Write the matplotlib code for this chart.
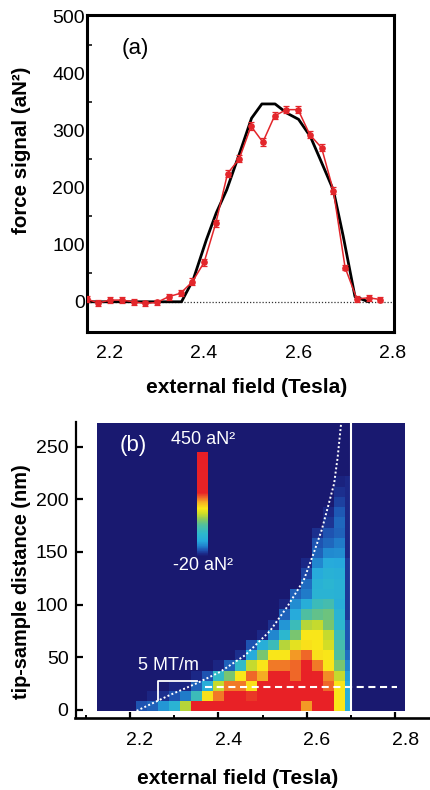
import numpy as np
import matplotlib
matplotlib.use("Agg")
import matplotlib.pyplot as plt
import matplotlib.transforms as mtransforms
from matplotlib.colors import LinearSegmentedColormap
from matplotlib.patches import Rectangle
from matplotlib.ticker import FixedLocator

plt.rcParams['font.family'] = ['Liberation Sans', 'DejaVu Sans']

W, H = 430, 790

# ---------------- panel (a) data ----------------
field_a = [2.150, 2.175, 2.200, 2.225, 2.250, 2.275, 2.300, 2.325, 2.350, 2.375,
           2.400, 2.425, 2.450, 2.475, 2.500, 2.525, 2.550, 2.575, 2.600, 2.625,
           2.650, 2.675, 2.700, 2.725, 2.750, 2.775]
signal_a = [5, -2, 3, 3, 0, -3, -1, 9, 15, 35,
            69, 138, 225, 251, 308, 280, 326, 337, 337, 293,
            270, 195, 60, 5, 7, 4]
err_a = [5, 5, 5, 5, 5, 5, 5, 5, 5, 6,
         6, 6, 6, 6, 7, 7, 6, 6, 6, 6,
         6, 6, 5, 5, 5, 5]

model_field = [2.150, 2.352, 2.377, 2.405, 2.426, 2.448, 2.477, 2.501, 2.523,
               2.551, 2.576, 2.601, 2.626, 2.647, 2.675, 2.696, 2.721, 2.750]
model_signal = [0, 0, 39, 109, 156, 196, 264, 322, 347,
                347, 331, 320, 290, 250, 196, 115, 9, 0]

# ---------------- panel (b) data ----------------
field_b = [2.200, 2.225, 2.250, 2.275, 2.300, 2.325, 2.350, 2.375, 2.400, 2.425,
           2.450, 2.475, 2.500, 2.525, 2.550, 2.575, 2.600, 2.625, 2.650, 2.675, 2.700]
# force signal (aN^2) per field column, listed from the lowest distance row upward
signal_b_cols = [
    [],
    [10],
    [15, -10],
    [40, -5],
    [70, 10, -10],
    [165, 25, -10],
    [350, 100, 15, -8],
    [350, 200, 60, 10],
    [350, 240, 170, 90, -10],
    [350, 350, 240, 140, 15],
    [350, 350, 240, 195, 90, -5],
    [350, 260, 200, 245, 170, 55, 10],
    [350, 350, 350, 225, 195, 140, 60, -8],
    [350, 350, 350, 300, 240, 195, 100, 30, -5],
    [350, 350, 350, 300, 240, 195, 165, 80, 40, 15, -10],
    [350, 350, 350, 245, 245, 230, 185, 140, 100, 55, 35, 15],
    [230, 350, 350, 350, 300, 245, 200, 195, 165, 120, 60, 25, 20, 5, -8],
    [350, 350, 350, 300, 240, 200, 195, 195, 170, 130, 100, 70, 65, 55, 30, 15, 10, -5],
    [350, 350, 245, 235, 195, 195, 175, 170, 140, 135, 110, 70, 75, 65, 55, 32, 18, 10, -3, -8],
    [195, 195, 195, 170, 140, 120, 110, 100, 80, 70, 60, 65, 65, 62, 50, 35, 25, 15, 18, 12, 3, -5, -12],
    [60, 60, 55, 45, 30, 20, 10, 10, 10, 0, 0, 0, 0, 0, 0, -8, -8, -8, -8, -8, -8, -8, -8],
]
background_b = -20
curve_field = [2.215, 2.245, 2.290, 2.350, 2.404, 2.461, 2.517, 2.556, 2.593,
               2.615, 2.634, 2.650, 2.662, 2.670, 2.678]
curve_dist = [-1, 5, 14, 25, 36, 52, 75, 98, 123, 148, 171, 196, 215, 240, 273]

# colormap (jet-like, stretched red)
anchors = [(0.00, (25, 25, 112)), (0.025, (27, 40, 135)), (0.06, (30, 80, 175)),
           (0.10, (32, 130, 205)), (0.15, (38, 170, 220)), (0.22, (45, 185, 205)),
           (0.30, (80, 190, 160)), (0.36, (140, 200, 90)), (0.41, (205, 220, 40)),
           (0.46, (250, 230, 25)), (0.52, (245, 175, 35)), (0.56, (240, 110, 40)),
           (0.61, (232, 35, 38)), (1.00, (232, 30, 38))]
cmap = LinearSegmentedColormap.from_list(
    'fm', [(p, tuple(c / 255 for c in rgb)) for p, rgb in anchors])

fig = plt.figure(figsize=(W / 100, H / 100), dpi=100)


def fx(px):
    return px / W


def fy(py):
    return 1 - py / H


# ================= panel (a) =================
ax = fig.add_axes([fx(87), fy(332), fx(394) - fx(87), fy(15) - fy(332)])
ax.axhline(0, color='#333333', ls=(0, (1, 1.5)), lw=0.9, zorder=1)
ax.plot(model_field, model_signal, color='black', lw=2.0, zorder=2)
ax.errorbar(field_a, signal_a, yerr=err_a, color='#e3262b', lw=1.1, marker='o',
            ms=3.8, capsize=2.2, elinewidth=0.9, capthick=0.9, zorder=3)
ax.set_xlim(2.151, 2.804)
ax.set_ylim(-53, 503)
ax.set_xticks([2.2, 2.4, 2.6, 2.8])
ax.set_xticklabels(['2.2', '2.4', '2.6', '2.8'])
ax.set_yticks([0, 100, 200, 300, 400, 500])
ax.yaxis.set_minor_locator(FixedLocator([50, 150, 250, 350, 450]))
ax.tick_params(axis='x', which='both', length=0, pad=9, labelsize=14)
ax.tick_params(axis='y', which='major', length=0, pad=1.5, labelsize=14)
ax.tick_params(axis='y', which='minor', direction='in', length=3.5, width=1.1)
for s in ax.spines.values():
    s.set_linewidth(2.2)
ax.text(2.254, 445, '(a)', fontsize=16, ha='center', va='center')

fig.text(fx(22), fy(150), 'force signal (aN²)', rotation=90, fontsize=14.8,
         fontweight='bold', ha='center', va='center')
fig.text(fx(247), fy(388), 'external field (Tesla)', fontsize=15,
         fontweight='bold', ha='center', va='center')

# ================= panel (b) =================
bx = fig.add_axes([fx(75.5), fy(718), 1 - fx(75.5), fy(422.5) - fy(718)])
nrows = max(len(c) for c in signal_b_cols)
grid = np.full((nrows, len(field_b)), background_b, dtype=float)
for j, col in enumerate(signal_b_cols):
    grid[:len(col), j] = col
x_edges = np.concatenate([np.array(field_b) - 0.0125, [2.70]])
y_edges = -1.6 + 9.71 * np.arange(nrows + 1)

bx.add_patch(Rectangle((2.125, -1.6), 2.8225 - 2.125, 400,
                       facecolor=cmap(0.0), edgecolor='none', zorder=0))
mesh = bx.pcolormesh(x_edges, y_edges, grid, cmap=cmap, vmin=-20, vmax=450,
                     shading='flat', zorder=1)
bx.plot([2.70, 2.70], [-1.6, 280], color='white', lw=1.5, zorder=3)
bx.plot(curve_field, curve_dist, color='white', ls=(0, (1, 1.2)), lw=1.4, zorder=3)
bx.plot([2.37, 2.805], [21.5, 21.5], color='white', ls=(0, (3.4, 2.2)), lw=1.5, zorder=3)
bx.plot([2.264, 2.264, 2.351], [9, 27.5, 27.5], color='white', lw=1.3, zorder=3)
bx.text(2.286, 42, '5 MT/m', color='white', fontsize=13, ha='center', va='center')
bx.text(2.207, 251.6, '(b)', color='white', fontsize=16, ha='center', va='center')

bx.set_xlim(2.0766, 2.879)
bx.set_ylim(-7.8, 273)
bx.set_xticks([2.2, 2.4, 2.6, 2.8])
bx.set_xticklabels(['2.2', '2.4', '2.6', '2.8'])
bx.xaxis.set_minor_locator(FixedLocator([2.1, 2.3, 2.5, 2.7]))
bx.set_yticks([0, 50, 100, 150, 200, 250])
bx.tick_params(axis='x', which='major', direction='in', length=4, width=1.6,
               pad=10, labelsize=14)
bx.tick_params(axis='x', which='minor', direction='in', length=2.5, width=1.4)
bx.tick_params(axis='y', which='major', direction='in', length=5, width=1.6,
               pad=5, labelsize=14)
bx.spines['top'].set_visible(False)
bx.spines['right'].set_visible(False)
bx.spines['left'].set_linewidth(1.6)
bx.spines['bottom'].set_linewidth(1.9)
shift = mtransforms.ScaledTranslation(10 / 100, 0, fig.dpi_scale_trans)
for lab in bx.get_xticklabels():
    lab.set_transform(lab.get_transform() + shift)

# inset colour scale
cax = fig.add_axes([fx(196.7), fy(556.7), fx(208.3) - fx(196.7), fy(451.7) - fy(556.7)])
cb = fig.colorbar(mesh, cax=cax)
cb.outline.set_visible(False)
cax.set_yticks([])
fig.text(fx(203), fy(440), '450 aN²', color='white', fontsize=13, ha='center', va='center')
fig.text(fx(203), fy(565), '-20 aN²', color='white', fontsize=13, ha='center', va='center')

fig.text(fx(22), fy(582), 'tip-sample distance (nm)', rotation=90, fontsize=14.3,
         fontweight='bold', ha='center', va='center')
fig.text(fx(237.5), fy(778), 'external field (Tesla)', fontsize=15,
         fontweight='bold', ha='center', va='center')

fig.savefig('out.png', dpi=100)
